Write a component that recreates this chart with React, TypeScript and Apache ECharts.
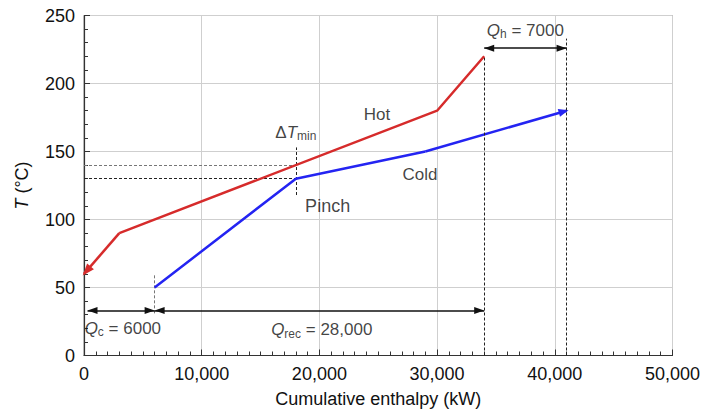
import React, { useEffect, useRef } from "react";
import * as echarts from "echarts";

// Hot composite curve (enthalpy kW, temperature °C), drawn from high T to low T
const hotX = [34000, 30000, 3000, 0];
const hotT = [220, 180, 90, 60];
// Cold composite curve
const coldX = [6000, 18000, 29000, 41000];
const coldT = [50, 130, 150, 180];

// Axis ranges
const xMin = 0, xMax = 50000, xStep = 10000;
const yMin = 0, yMax = 250, yStep = 50;

// Annotation values
const pinchX = 18000;
const pinchCold = 130;
const pinchHot = 140;
const qC = 6000;
const qRec = 28000;
const qH = 7000;
const qArrowY = 33;
const qhArrowY = 226;

const FONT = "Liberation Sans, Arial, Helvetica, sans-serif";
const RED = "#d62b2b";
const BLUE = "#2424f2";
const INK = "#111111";

const rich = {
  i: { fontStyle: "italic", fontSize: 17, fontFamily: FONT, color: INK },
  sub: { fontSize: 12, fontFamily: FONT, color: INK, padding: [8, 0, 0, 0] },
  n: { fontSize: 17, fontFamily: FONT, color: INK },
  p: { fontSize: 18, fontFamily: FONT, color: INK },
};

const fmt = (v: number) => v.toLocaleString("en-US");

export default function App() {
  const ref = useRef<HTMLDivElement>(null);
  useEffect(() => {
    if (!ref.current) return;
    const chart = echarts.init(ref.current, null, { renderer: "svg" });
    const hotData = hotX.map((x, i) => [x, hotT[i]]);
    const coldData = coldX.map((x, i) => [x, coldT[i]]);
    const nh = hotData.length;
    const nc = coldData.length;
    const dashBlack = { color: "#222", type: [3, 2] as any, width: 1 };
    const dashGray = { color: "#777", type: [3, 2] as any, width: 1 };
    const arrowBlack = { color: "#111", width: 1.5, type: "solid" as any };
    const tri = { symbol: "triangle", symbolSize: [7, 10], symbolOffset: [0, 5] };

    const labelPts = [
      { value: [37500, 239], text: `{i|Q}{sub|h}{n| = ${qH}}` },
      { value: [pinchX, 164], text: `{n|Δ}{i|T}{sub|min}` },
      { value: [24900, 177], text: `{n|Hot}` },
      { value: [28550, 133], text: `{n|Cold}` },
      { value: [20700, 110], text: `{p|Pinch}` },
      { value: [3300, 20], text: `{i|Q}{sub|c}{n| = ${qC}}` },
      { value: [20200, 19], text: `{i|Q}{sub|rec}{n| = ${fmt(qRec)}}` },
    ];

    chart.setOption({
      animation: false,
      grid: {
        left: 84,
        right: 31.5,
        top: 15.5,
        bottom: 57.5,
        show: true,
        borderColor: "#8a8a8a",
        borderWidth: 1,
      },
      xAxis: {
        type: "value",
        min: xMin,
        max: xMax,
        interval: xStep,
        name: "Cumulative enthalpy (kW)",
        nameLocation: "middle",
        nameGap: 34,
        nameTextStyle: { fontSize: 18, fontFamily: FONT, color: INK },
        axisLine: { show: true, lineStyle: { color: "#333", width: 1.2 } },
        axisTick: { show: true, inside: true, length: 6, lineStyle: { color: "#333" } },
        minorTick: { show: true, splitNumber: 10, length: 4, lineStyle: { color: "#333" } },
        axisLabel: {
          fontSize: 18,
          fontFamily: FONT,
          color: INK,
          margin: 9,
          formatter: (v: number) => fmt(v),
        },
        splitLine: { show: true, lineStyle: { color: "#cfcfcf", width: 1 } },
      },
      yAxis: {
        type: "value",
        min: yMin,
        max: yMax,
        interval: yStep,
        name: "{i|T} {n|(°C)}",
        nameLocation: "middle",
        nameGap: 53,
        nameTextStyle: {
          fontSize: 18,
          fontFamily: FONT,
          color: INK,
          rich: {
            i: { fontStyle: "italic", fontSize: 18, fontFamily: FONT, color: INK },
            n: { fontSize: 18, fontFamily: FONT, color: INK },
          },
        },
        axisLine: { show: true, lineStyle: { color: "#333", width: 1.2 } },
        axisTick: { show: true, inside: true, length: 6, lineStyle: { color: "#333" } },
        minorTick: { show: true, splitNumber: 5, length: 4, lineStyle: { color: "#333" } },
        axisLabel: { fontSize: 18, fontFamily: FONT, color: INK, margin: 9 },
        splitLine: { show: true, lineStyle: { color: "#cfcfcf", width: 1 } },
      },
      series: [
        {
          type: "line",
          name: "Hot",
          data: hotData.slice(0, nh - 1),
          symbol: "none",
          z: 5,
          lineStyle: { color: RED, width: 2.5 },
          markLine: {
            silent: true,
            animation: false,
            symbol: ["none", "triangle"],
            symbolSize: [9, 12],
            label: { show: false },
            lineStyle: { color: RED, width: 2.5, type: "solid" },
            data: [[{ coord: hotData[nh - 2] }, { coord: hotData[nh - 1], symbolOffset: [0, 4] }]],
          },
        },
        {
          type: "line",
          name: "Cold",
          data: coldData.slice(0, nc - 1),
          symbol: "none",
          z: 5,
          lineStyle: { color: BLUE, width: 2.5 },
          markLine: {
            silent: true,
            animation: false,
            symbol: ["none", "triangle"],
            symbolSize: [8, 10],
            label: { show: false },
            lineStyle: { color: BLUE, width: 2.5, type: "solid" },
            data: [[{ coord: coldData[nc - 2] }, { coord: coldData[nc - 1], symbolOffset: [0, 3] }]],
          },
        },
        {
          type: "scatter",
          name: "labels",
          symbolSize: 0,
          z: 6,
          itemStyle: { color: "transparent" },
          data: labelPts.map((p) => ({
            value: p.value,
            label: {
              show: true,
              position: "inside",
              color: INK,
              textBorderWidth: 0,
              formatter: p.text,
              rich,
            },
          })),
          markLine: {
            silent: true,
            animation: false,
            symbol: ["none", "none"],
            label: { show: false },
            data: [
              [
                { coord: [xMin, pinchHot], lineStyle: dashGray },
                { coord: [pinchX, pinchHot] },
              ],
              [
                { coord: [xMin, pinchCold], lineStyle: dashBlack },
                { coord: [pinchX, pinchCold] },
              ],
              [
                { coord: [pinchX, 118], lineStyle: dashBlack },
                { coord: [pinchX, 153] },
              ],
              [
                { coord: [qC, 31], lineStyle: dashGray },
                { coord: [qC, 60] },
              ],
              [
                { coord: [qC + qRec, 0], lineStyle: dashBlack },
                { coord: [qC + qRec, 220] },
              ],
              [
                { coord: [qC + qRec + qH, 0], lineStyle: dashBlack },
                { coord: [qC + qRec + qH, 233] },
              ],
              [
                { coord: [qC + qRec, qhArrowY], lineStyle: arrowBlack, ...tri },
                { coord: [qC + qRec + qH, qhArrowY], ...tri },
              ],
              [
                { coord: [xMin + 300, qArrowY], lineStyle: arrowBlack, ...tri },
                { coord: [qC, qArrowY], ...tri },
              ],
              [
                { coord: [qC, qArrowY], lineStyle: arrowBlack, ...tri },
                { coord: [qC + qRec, qArrowY], ...tri },
              ],
            ],
          },
        },
      ],
    });
    return () => chart.dispose();
  }, []);
  return (
    <div
      ref={ref}
      style={{ position: "absolute", left: 0, top: 0, width: 704, height: 413, background: "#fff" }}
    />
  );
}
